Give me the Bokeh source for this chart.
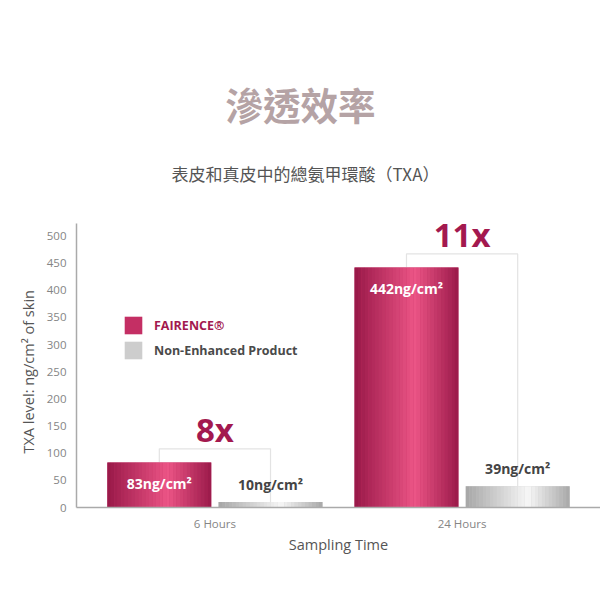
from bokeh.plotting import figure
from bokeh.models import (Range1d, FixedTicker, Label, Legend, LegendItem,
                          ColumnDataSource, Title)
from bokeh.core.properties import value
from bokeh.embed import file_html
from bokeh.resources import INLINE

# ---- data ----
categories = ["6 Hours", "24 Hours"]
fairence = [83, 442]
non_enhanced = [10, 39]
ratios = ["8x", "11x"]
series_names = ["FAIRENCE®", "Non-Enhanced Product"]
y_ticks = [0, 50, 100, 150, 200, 250, 300, 350, 400, 450, 500]
title_text = "滲透效率"
subtitle_text = "表皮和真皮中的總氨甲環酸（TXA）"
x_title = "Sampling Time"
y_title = "TXA level: ng/cm² of skin"

PINK = "#c42f64"
GRAY = "#cdcdcd"
CRIMSON = "#a3194f"
LATIN = "Open Sans"
CJK = "Noto Sans CJK TC"

xpos = list(range(len(categories)))
off = 0.225
bw = 0.42
Y_AXIS_TOP = 523          # end of the drawn value axis
PLOT_BOTTOM = 93          # px below the frame
AXIS_PX = 284             # px length of the value axis


def lerp(c1, c2, t):
    a = [int(c1[i:i + 2], 16) for i in (1, 3, 5)]
    b = [int(c2[i:i + 2], 16) for i in (1, 3, 5)]
    return "#%02x%02x%02x" % tuple(round(a[k] + (b[k] - a[k]) * t) for k in range(3))


def grad(edge_l, mid, edge_r, n, peak=0.58):
    cols = []
    for k in range(n):
        f = (k + 0.5) / n
        if f <= peak:
            cols.append(lerp(edge_l, mid, f / peak))
        else:
            cols.append(lerp(mid, edge_r, (f - peak) / (1 - peak)))
    return cols


H = 600
frame_h = H - PLOT_BOTTOM
y_end = Y_AXIS_TOP * frame_h / AXIS_PX

p = figure(width=600, height=H, output_backend="svg", toolbar_location=None,
           x_range=Range1d(-0.56, 1.56), y_range=Range1d(0, y_end),
           min_border_left=76, min_border_right=0, min_border_top=0,
           min_border_bottom=PLOT_BOTTOM)
p.outline_line_color = None
p.xgrid.visible = False
p.ygrid.visible = False
p.background_fill_color = "white"

# bracket lines behind bars
xs, ys = [], []
for i, (a, b) in enumerate(zip(fairence, non_enhanced)):
    top = max(a, b) + 25
    xs.append([xpos[i] - off, xpos[i] - off, xpos[i] + off, xpos[i] + off])
    ys.append([a, top, top, b])
p.multi_line(xs, ys, line_color="#e3e3e3", line_width=1.2)

src_p = ColumnDataSource(dict(x=[x - off for x in xpos], top=fairence,
                              lab=[f"{v}ng/cm²" for v in fairence],
                              ly=[v - 38 for v in fairence]))
src_g = ColumnDataSource(dict(x=[x + off for x in xpos], top=non_enhanced,
                              lab=[f"{v}ng/cm²" for v in non_enhanced],
                              ly=[v + 33 for v in non_enhanced]))

r_p = p.vbar(x="x", top="top", width=bw, bottom=0, source=src_p,
             fill_color=PINK, line_color=None)
r_g = p.vbar(x="x", top="top", width=bw, bottom=0, source=src_g,
             fill_color=GRAY, line_color=None)

# gradient shading of the bars (vertical strips)
N = 30
pink_cols = grad("#981848", "#ec5586", "#9a1a4a", N)
gray_cols = grad("#a6a6a6", "#f7f7f7", "#a8a8a8", N, peak=0.6)
for src, cols in ((src_p, pink_cols), (src_g, gray_cols)):
    sx, st, sc = [], [], []
    for cx, tp in zip(src.data["x"], src.data["top"]):
        for k in range(N):
            sx.append(cx - bw / 2 + (k + 0.5) * bw / N)
            st.append(tp)
            sc.append(cols[k])
    p.vbar(x=sx, top=st, width=bw / N * 1.04, bottom=0, fill_color=sc,
           line_color=None)

p.text(x="x", y="ly", text="lab", source=src_p, text_color="white",
       text_font=value(LATIN), text_font_size="14px", text_font_style="bold",
       text_align="center", text_baseline="middle")
p.text(x="x", y="ly", text="lab", source=src_g, text_color="#444444",
       text_font=value(LATIN), text_font_size="14px", text_font_style="bold",
       text_align="center", text_baseline="middle")

src_r = ColumnDataSource(dict(x=xpos, y=[max(a, b) + 60 for a, b in zip(fairence, non_enhanced)],
                              t=ratios))
p.text(x="x", y="y", text="t", source=src_r, text_color=CRIMSON,
       text_font=value(LATIN), text_font_size="33px", text_font_style="bold",
       text_align="center", text_baseline="middle")

# axes
p.xaxis.ticker = FixedTicker(ticks=xpos)
p.xaxis.major_label_overrides = {i: c for i, c in zip(xpos, categories)}
p.yaxis.ticker = FixedTicker(ticks=y_ticks)
p.yaxis.bounds = (0, Y_AXIS_TOP)
for ax in (p.xaxis, p.yaxis):
    ax.axis_line_color = "#aaaaaa"
    ax.axis_line_width = 1.5
    ax.major_tick_line_color = None
    ax.minor_tick_line_color = None
    ax.major_label_text_color = "#858585"
    ax.major_label_text_font = LATIN
    ax.major_label_text_font_size = "11.5px"
    ax.axis_label_text_font = LATIN
    ax.axis_label_text_font_size = "14.5px"
    ax.axis_label_text_font_style = "normal"
    ax.axis_label_text_color = "#555555"
p.xaxis.axis_label = x_title
p.yaxis.major_label_standoff = 4
p.xaxis.major_label_standoff = 2
p.xaxis.axis_label_standoff = 1

# value-axis title, placed along the drawn part of the axis
p.add_layout(Title(text=y_title, text_font=LATIN, text_font_size="14.5px",
                   text_font_style="normal", text_color="#555555",
                   align="left", offset=54, standoff=12), "left")

# legends
common = dict(padding=0, margin=0, border_line_color=None,
              background_fill_alpha=0, glyph_width=22, glyph_height=22,
              label_height=22, label_standoff=10, label_text_font=LATIN,
              label_text_font_size="12.5px", label_text_font_style="bold")
leg1 = Legend(items=[LegendItem(label=series_names[0], renderers=[r_p])],
              location=(46, 171), label_text_color=CRIMSON, **common)
leg2 = Legend(items=[LegendItem(label=series_names[1], renderers=[r_g])],
              location=(46, 146), label_text_color="#4a4a4a", **common)
p.add_layout(leg1)
p.add_layout(leg2)

# titles (screen units, measured from the frame's bottom-left corner)
p.add_layout(Label(x=224, y=frame_h - 103, x_units="screen", y_units="screen",
                   text=title_text, text_font=CJK, text_font_size="37.5px",
                   text_font_style="bold", text_color="#b5a3a5",
                   text_align="center", text_baseline="middle"))
p.add_layout(Label(x=229, y=frame_h - 173, x_units="screen", y_units="screen",
                   text=subtitle_text, text_font=CJK, text_font_size="17px",
                   text_color="#555555", text_align="center",
                   text_baseline="middle"))

open("out.html", "w").write(file_html(p, INLINE))
